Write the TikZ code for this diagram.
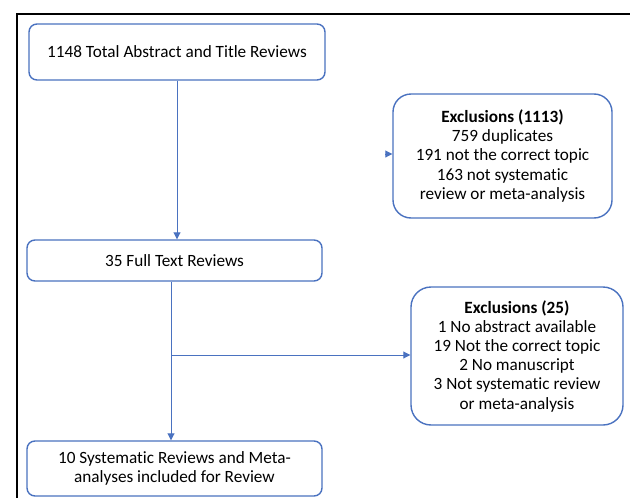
\documentclass[tikz,border=0pt]{standalone}
\usepackage{fontspec}
\setmainfont[Ligatures={NoCommon}]{Carlito}
\usetikzlibrary{arrows.meta}
\definecolor{obl}{HTML}{4A72C0}
\begin{document}
\begin{tikzpicture}[x=1pt,y=-1pt,
  box/.style={draw=obl,line width=1.4pt,fill=white,rounded corners=#1,align=center,
    inner sep=0pt,font=\fontsize{17.2}{19.2}\selectfont},
  conn/.style={draw=obl,line width=0.9pt,-{Triangle[length=7pt,width=7pt]}}]
\useasboundingbox (0,0) rectangle (630,498);
\fill[white] (0,0) rectangle (630,498);
\draw[line width=1.8pt] (630,14) -- (17,14) -- (17,499);
\node[box=8pt,minimum width=296pt,minimum height=56pt] (b1) at (177,52) {1148 Total Abstract and Title Reviews};
\node[box=18pt,minimum width=219pt,minimum height=124pt] (b2) at (502.5,156)
  {\textbf{Exclusions (1113)}\\759 duplicates\\191 not the correct topic\\163 not systematic\\review or meta-analysis};
\node[box=8pt,minimum width=295pt,minimum height=41pt] (b3) at (174.5,260.5) {35 Full Text Reviews};
\node[box=20pt,minimum width=212pt,minimum height=138pt] (b4) at (517,356)
  {\textbf{Exclusions (25)}\\1 No abstract available\\19 Not the correct topic\\2 No manuscript\\3 Not systematic review\\or meta-analysis};
\node[box=8pt,minimum width=295pt,minimum height=55pt] (b5) at (174.5,468.5) {10 Systematic Reviews and Meta-\\analyses included for Review};
\draw[conn] (b1.south) -- (b1.south |- b3.north);
\coordinate (s3) at ([xshift=-3.5pt]b3.south);
\draw[conn] (s3) -- (s3 |- b5.north);
\coordinate (j) at (171,355);
\draw[conn] (j) -- (j -| b4.west);
\coordinate (a2) at (385,154);
\draw[conn] (a2) -- (a2 -| b2.west);
\end{tikzpicture}
\end{document}
